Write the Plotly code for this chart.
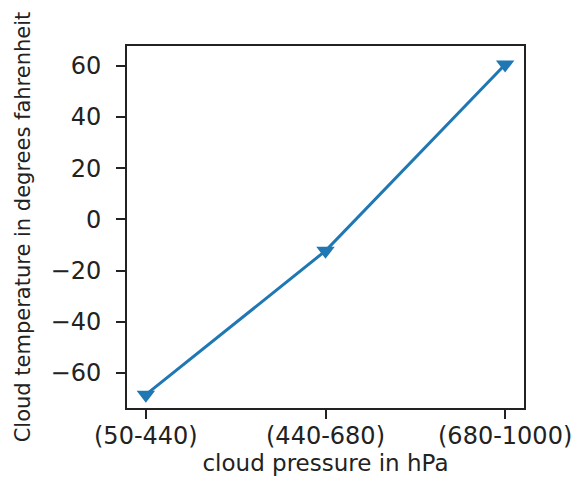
import plotly.graph_objects as go

categories = ["(50-440)", "(440-680)", "(680-1000)"]
temperatures = [-68.5, -12.3, 60.5]
y_ticks = [-60, -40, -20, 0, 20, 40, 60]

FONT = "DejaVu Sans"
BLUE = "#1f77b4"

fig = go.Figure()
fig.add_trace(go.Scatter(
    x=categories, y=temperatures, mode="lines+markers",
    line=dict(color=BLUE, width=3),
    marker=dict(symbol="triangle-down", size=16, color=BLUE),
))

axis_common = dict(
    showline=True, linecolor="#222", linewidth=2, mirror=True,
    ticks="outside", ticklen=9, tickwidth=2, tickcolor="#222",
    showgrid=False, zeroline=False,
    tickfont=dict(family=FONT, size=24, color="#222"),
)

fig.update_layout(
    width=579, height=478,
    margin=dict(l=127, r=55, t=46, b=70, autoexpand=False),
    paper_bgcolor="white", plot_bgcolor="white",
    showlegend=False,
    font=dict(family=FONT, color="#222"),
    xaxis=dict(
        **axis_common, type="category", range=[-0.105, 2.105],
        ticklabelstandoff=-4,
        title=dict(text="cloud pressure in hPa", font=dict(family=FONT, size=23, color="#222"), standoff=4),
    ),
    yaxis=dict(
        **axis_common, range=[-73.7, 67.7], tickvals=y_ticks,
        ticklabelstandoff=10,
        title=dict(text="Cloud temperature in degrees fahrenheit", font=dict(family=FONT, size=21, color="#222"), standoff=14),
    ),
)

fig.write_html("out.html")
